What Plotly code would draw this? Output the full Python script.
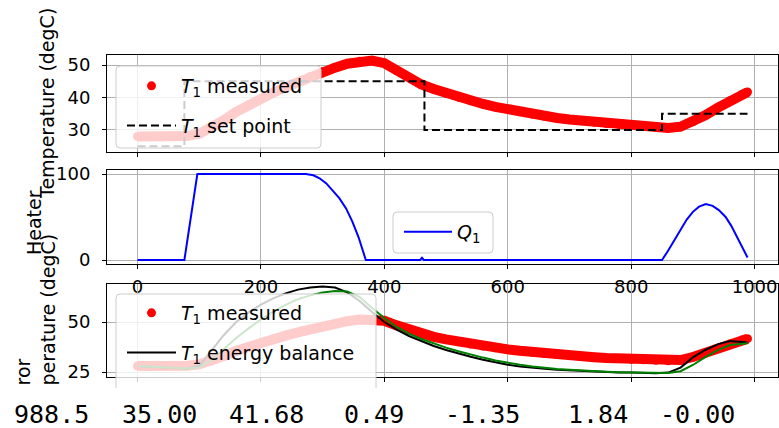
import plotly.graph_objects as go

# ---------------- data ----------------
t_meas = [0, 20, 40, 60, 80, 100, 120, 140, 160, 180, 200, 220, 240, 260, 280, 300, 320, 340, 360, 380,
          400, 420, 440, 460, 480, 500, 520, 540, 560, 580, 600, 620, 640, 660, 680, 700, 720, 740, 760, 780,
          800, 820, 840, 860, 880, 900, 920, 940, 960, 980, 988.5]
T1_measured = [28.0, 27.9, 27.9, 28.0, 28.1, 28.8, 30.5, 33.0, 35.6, 37.8, 39.5, 41.5, 43.2, 44.8, 46.5, 47.9, 49.2, 50.4, 51.2, 51.4,
               50.6, 48.3, 46.2, 44.0, 42.6, 41.3, 40.1, 39.0, 38.0, 37.1, 36.3, 35.6, 34.9, 34.2, 33.7, 33.2, 32.8, 32.4, 32.0, 31.7,
               31.4, 31.1, 30.9, 30.6, 31.0, 32.5, 34.5, 36.8, 39.0, 41.0, 41.68]
T1_energy = [28.0, 27.6, 27.2, 26.9, 26.6, 28.0, 35.8, 43.5, 50.0, 54.8, 58.7, 61.8, 64.3, 66.2, 67.3, 67.7, 67.2, 64.8, 60.5, 55.0,
             50.0, 46.2, 43.0, 40.3, 38.0, 36.0, 34.2, 32.6, 31.1, 29.8, 28.6, 27.8, 27.1, 26.6, 26.1, 25.8, 25.5, 25.2, 25.0, 24.8,
             24.7, 24.5, 24.4, 24.7, 27.2, 32.3, 36.0, 38.8, 40.5, 40.0, 39.7]
T1_linear = [28.0, 27.6, 27.2, 26.9, 26.7, 27.3, 31.0, 36.5, 42.0, 46.8, 51.3, 55.2, 58.6, 61.4, 63.3, 64.8, 65.5, 65.3, 62.5, 57.0,
             52.0, 47.5, 44.2, 41.5, 39.2, 37.2, 35.4, 33.7, 32.2, 30.8, 29.6, 28.6, 27.8, 27.1, 26.5, 26.1, 25.7, 25.4, 25.1, 24.9,
             24.8, 24.6, 24.5, 24.5, 25.4, 28.5, 32.4, 35.9, 38.5, 39.3, 39.4]

t_setpoint = [0, 76, 465, 850, 988.5]
T1_setpoint = [25, 45, 30, 35, 35]

t_heater = [0, 76, 97, 273, 285, 295, 306, 316, 327, 338, 348, 358, 366, 370,
            458, 461, 464,
            850, 860, 870, 880, 890, 900, 910, 921, 932, 942, 953, 962, 970, 980, 988.5]
Q1 = [0, 0, 100, 100, 98.5, 95, 89, 81, 72, 60, 45, 27, 10, 0,
      0, 2.5, 0,
      0, 11, 23, 35, 47, 56, 62, 65, 63, 58, 50, 40, 29, 15, 3]

x_ticks = [0, 200, 400, 600, 800, 1000]
printed_values = ["988.5", "35.00", "41.68", "0.49", "-1.35", "1.84", "-0.00"]

# ---------------- layout geometry ----------------
W, H = 779, 428
ML, MR, MT, MB = 107, 1, 55, 51
PW = W - ML - MR
PH = H - MT - MB


def px_x(px):
    return (px - ML) / PW


def px_y(py):
    return (H - MB - py) / PH


FONT = "DejaVu Sans"
TICKSIZE = 18
LEGSIZE = 19

fig = go.Figure()

# subplot 1 ---------------------------------------------------------------
fig.add_trace(go.Scatter(x=t_meas, y=T1_measured, mode="lines", line=dict(color="red", width=10),
                         showlegend=False, xaxis="x", yaxis="y", hoverinfo="skip"))
fig.add_trace(go.Scatter(x=t_meas, y=T1_measured, mode="markers", marker=dict(color="red", size=9),
                         name="<i>T</i><sub>1</sub> measured", legend="legend", legendgroup="a",
                         xaxis="x", yaxis="y"))
fig.add_trace(go.Scatter(x=t_setpoint, y=T1_setpoint, mode="lines", line_shape="hv",
                         line=dict(color="black", width=2, dash="8px,4px"),
                         name="<i>T</i><sub>1</sub> set point", legend="legend", legendgroup="b",
                         xaxis="x", yaxis="y"))

# subplot 2 ---------------------------------------------------------------
fig.add_trace(go.Scatter(x=t_heater, y=Q1, mode="lines", line=dict(color="blue", width=2),
                         name="<i>Q</i><sub>1</sub>", legend="legend2", xaxis="x2", yaxis="y2"))

# subplot 3 ---------------------------------------------------------------
fig.add_trace(go.Scatter(x=t_meas, y=T1_measured, mode="lines", line=dict(color="red", width=10),
                         showlegend=False, xaxis="x3", yaxis="y3", hoverinfo="skip"))
fig.add_trace(go.Scatter(x=t_meas, y=T1_measured, mode="markers", marker=dict(color="red", size=9),
                         name="<i>T</i><sub>1</sub> measured", legend="legend3", legendgroup="c",
                         xaxis="x3", yaxis="y3"))
fig.add_trace(go.Scatter(x=t_meas, y=T1_energy, mode="lines", line=dict(color="black", width=2),
                         name="<i>T</i><sub>1</sub> energy balance", legend="legend3", legendgroup="d",
                         xaxis="x3", yaxis="y3"))
fig.add_trace(go.Scatter(x=t_meas, y=T1_linear, mode="lines", line=dict(color="green", width=2),
                         name="<i>T</i><sub>1</sub> linear model", showlegend=False,
                         xaxis="x3", yaxis="y3"))

common_axis = dict(showline=True, mirror=True, linecolor="black", linewidth=1,
                   ticks="outside", ticklen=4, tickwidth=1, tickcolor="black",
                   showgrid=True, gridcolor="#b0b0b0", gridwidth=1, zeroline=False,
                   tickfont=dict(family=FONT, size=TICKSIZE, color="black"))

xr = [-49.4, 1037.9]
fig.update_layout(
    xaxis=dict(common_axis, domain=[0, 1], range=xr, tickvals=x_ticks, showticklabels=False, anchor="y"),
    yaxis=dict(common_axis, domain=[px_y(152), px_y(55)], range=[23.2, 53.1], tickvals=[30, 40, 50],
               anchor="x", ticklabelstandoff=8),
    xaxis2=dict(common_axis, domain=[0, 1], range=xr, tickvals=x_ticks, anchor="y2", ticklabelstandoff=2),
    yaxis2=dict(common_axis, domain=[px_y(264), px_y(170)], range=[-4.65, 104.65], tickvals=[0, 100],
                anchor="x2", ticklabelstandoff=8),
    xaxis3=dict(common_axis, domain=[0, 1], range=xr, tickvals=x_ticks, showticklabels=False, anchor="y3"),
    yaxis3=dict(common_axis, domain=[0, px_y(284)], range=[22.5, 69.0], tickvals=[25, 50],
                anchor="x3", ticklabelstandoff=8),
)

# legends: entries only; frames are drawn as shapes below
legend_common = dict(bgcolor="rgba(0,0,0,0)", borderwidth=0,
                     font=dict(family=FONT, size=LEGSIZE, color="black"),
                     xanchor="left", yanchor="top")
fig.update_layout(
    legend=dict(legend_common, x=px_x(122), y=px_y(67), tracegroupgap=12, itemwidth=49),
    legend2=dict(legend_common, x=px_x(399), y=px_y(213), itemwidth=48),
    legend3=dict(legend_common, x=px_x(122), y=px_y(294), tracegroupgap=12, itemwidth=49),
)


def frame_path(x0, y0, x1, y1, r=4, open_bottom=False):
    X = px_x
    Y = px_y
    if open_bottom:
        return (f"M {X(x0)},{Y(y1)} L {X(x0)},{Y(y0 + r)} Q {X(x0)},{Y(y0)} {X(x0 + r)},{Y(y0)} "
                f"L {X(x1 - r)},{Y(y0)} Q {X(x1)},{Y(y0)} {X(x1)},{Y(y0 + r)} L {X(x1)},{Y(y1)}")
    return (f"M {X(x0 + r)},{Y(y0)} L {X(x1 - r)},{Y(y0)} Q {X(x1)},{Y(y0)} {X(x1)},{Y(y0 + r)} "
            f"L {X(x1)},{Y(y1 - r)} Q {X(x1)},{Y(y1)} {X(x1 - r)},{Y(y1)} "
            f"L {X(x0 + r)},{Y(y1)} Q {X(x0)},{Y(y1)} {X(x0)},{Y(y1 - r)} "
            f"L {X(x0)},{Y(y0 + r)} Q {X(x0)},{Y(y0)} {X(x0 + r)},{Y(y0)} Z")


shapes = []
for (x0, y0, x1, y1) in [(116, 66, 321, 148), (393, 212, 493, 253)]:
    shapes.append(dict(type="path", xref="paper", yref="paper", layer="above",
                       path=frame_path(x0, y0, x1, y1),
                       fillcolor="rgba(255,255,255,0.8)", line=dict(color="#cccccc", width=1)))
# third legend frame, cut off at the bottom like in the reference
shapes.append(dict(type="path", xref="paper", yref="paper", layer="above",
                   path=frame_path(116, 294, 376, 388),
                   fillcolor="rgba(255,255,255,0.8)", line=dict(color="rgba(0,0,0,0)", width=0)))
shapes.append(dict(type="path", xref="paper", yref="paper", layer="above",
                   path=frame_path(116, 294, 376, 388, open_bottom=True),
                   line=dict(color="#cccccc", width=1)))

annotations = [
    dict(text="Temperature (degC)", x=px_x(47), y=px_y(104), textangle=-90),
    dict(text="Heater", x=px_x(34), y=px_y(223), textangle=-90),
    dict(text="perature (degC)", x=px_x(47.5), y=px_y(388), textangle=-90, yanchor="bottom"),
    dict(text="ror", x=px_x(23), y=px_y(388), textangle=-90, yanchor="bottom"),
]
ann_list = []
for a in annotations:
    base = dict(xref="paper", yref="paper", showarrow=False, xanchor="center", yanchor="middle",
                font=dict(family=FONT, size=LEGSIZE, color="black"))
    base.update(a)
    ann_list.append(base)

num_x = [12.5, 120.5, 227.5, 342.5, 443.5, 566.5, 658.5]
for txt, xp in zip(printed_values, num_x):
    ann_list.append(dict(text=txt, xref="paper", yref="paper", x=px_x(xp), y=px_y(415),
                         xanchor="left", yanchor="middle", showarrow=False, borderpad=0,
                         font=dict(family="DejaVu Sans Mono", size=25, color="black")))

fig.update_layout(
    width=W, height=H, margin=dict(l=ML, r=MR, t=MT, b=MB, pad=0),
    paper_bgcolor="white", plot_bgcolor="white",
    annotations=ann_list, shapes=shapes,
    font=dict(family=FONT, color="black"),
)

fig.write_html("out.html", config={"displayModeBar": False},
               post_script="document.body.style.margin='0';document.body.style.overflow='hidden';")
